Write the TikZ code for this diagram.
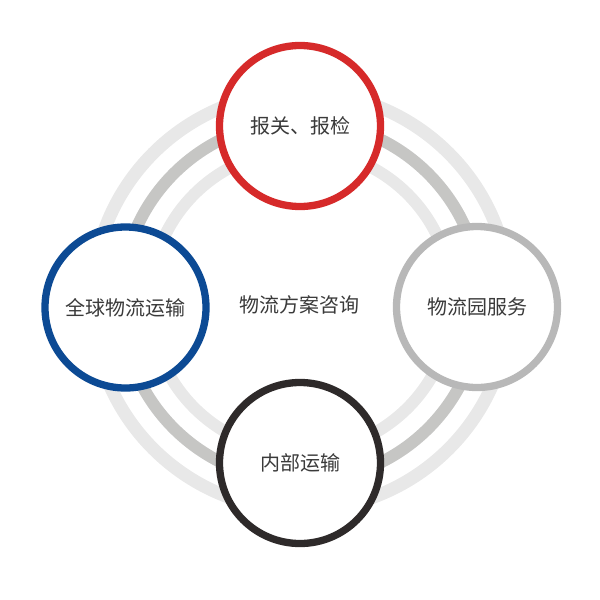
\documentclass[tikz,border=0pt]{standalone}
\usepackage{fontspec}
\usepackage{tikz}
\newfontfamily\cjk{Noto Sans CJK SC}
\definecolor{ringlight}{HTML}{E8E8E8}
\definecolor{ringmid}{HTML}{C6C6C4}
\definecolor{redring}{HTML}{D62A2A}
\definecolor{bluering}{HTML}{0C4A94}
\definecolor{grayring}{HTML}{B8B8B8}
\definecolor{darkring}{HTML}{2E2A2A}
\definecolor{textgray}{HTML}{3A3A3A}

\begin{document}
\begin{tikzpicture}[x=1pt, y=-1pt, every node/.style={circle, draw, fill=white, minimum size=161pt, inner sep=0pt, line width=7.3pt, text=textgray, font=\cjk\fontsize{20}{20}\selectfont}]
  \useasboundingbox (0,0) rectangle (600,600);
  \coordinate (mid) at (301,301);
  \draw [ringlight, line width=13pt] (mid) circle (209pt);
  \draw [ringmid, line width=12pt] (mid) circle (180pt);
  \draw [ringlight, line width=12pt] (mid) circle (151pt);
  \node (baoguan) [draw=redring] at (300,126) {报关、报检};
  \node (wuliuyuan) [draw=grayring] at (477,307) {物流园服务};
  \node (neibu) [draw=darkring] at (300,463) {内部运输};
  \node (quanqiu) [draw=bluering] at (125.5,307.5) {全球物流运输};
  \node (zixun) [draw=none, fill=none] at (299,305) {物流方案咨询};
\end{tikzpicture}
\end{document}
